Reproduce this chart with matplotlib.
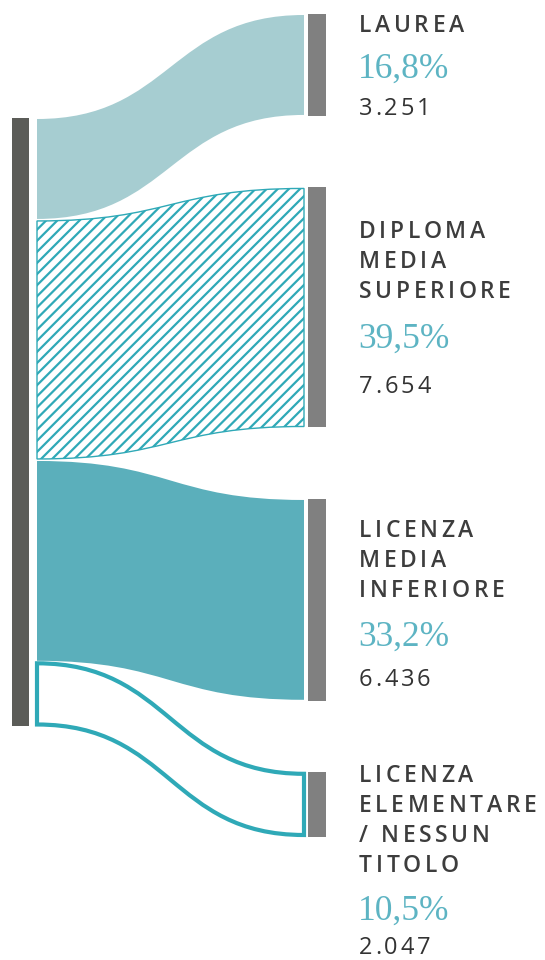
import numpy as np
import matplotlib
matplotlib.use('Agg')
import matplotlib.pyplot as plt
from matplotlib.path import Path
from matplotlib.patches import PathPatch, Rectangle

plt.rcParams['hatch.linewidth'] = 1.6

# data
categories = [['LAUREA'], ['DIPLOMA', 'MEDIA', 'SUPERIORE'],
              ['LICENZA', 'MEDIA', 'INFERIORE'],
              ['LICENZA', 'ELEMENTARE', '/ NESSUN', 'TITOLO']]
counts = [3251, 7654, 6436, 2047]
count_labels = ['3.251', '7.654', '6.436', '2.047']
pct_labels = ['16,8%', '39,5%', '33,2%', '10,5%']

# layout (pixel coords)
W, H = 545, 960
left_top, left_bot = 118, 726
right_top, gap = 14, 71.5
x_lbar = (12, 29)
x_flow = (37, 304)
x_rbar = (308, 326)
label_x = 359
label_y = [32, 238, 537, 782]   # baseline of first line
pct_y = [78, 348, 646, 920]
num_y = [115, 393, 686, 954]

teal_light = '#a6cdd1'
teal_mid = '#5bafbb'
teal_line = '#2fa9b7'
pct_col = '#5db4c3'
txt_col = '#3d3d3d'

fig = plt.figure(figsize=(W / 100, H / 100), dpi=100)
ax = fig.add_axes([0, 0, 1, 1])
ax.set_xlim(0, W)
ax.set_ylim(H, 0)
ax.axis('off')

total = sum(counts)
scale = (left_bot - left_top) / total

ax.add_patch(Rectangle((x_lbar[0], left_top), x_lbar[1] - x_lbar[0],
                       left_bot - left_top, color='#5b5c58', lw=0))


def band(x0, x1, a0, a1, b0, b1):
    # top edge a0->b0, bottom edge b1<-a1 as cubic beziers
    xm = (x0 + x1) / 2
    verts = [(x0, a0), (xm, a0), (xm, b0), (x1, b0),
             (x1, b1), (xm, b1), (xm, a1), (x0, a1), (x0, a0)]
    codes = [Path.MOVETO, Path.CURVE4, Path.CURVE4, Path.CURVE4,
             Path.LINETO, Path.CURVE4, Path.CURVE4, Path.CURVE4, Path.CLOSEPOLY]
    return Path(verts, codes)


styles = [
    dict(facecolor=teal_light, edgecolor='none'),
    dict(facecolor='white', edgecolor=teal_line, hatch='///', lw=1.0),
    dict(facecolor=teal_mid, edgecolor='none'),
    dict(facecolor='white', edgecolor=teal_line, lw=3),
]

renderer = fig.canvas.get_renderer()


def spaced(x, y, s, track, **kw):
    for ch in s:
        t = ax.text(x, y, ch, va='baseline', ha='left', **kw)
        w = t.get_window_extent(renderer).width
        x += w + track


yl = left_top
yr = right_top
for i, c in enumerate(counts):
    h = c * scale
    st = styles[i]
    inset = 1.5 if st.get('lw', 0) > 2 else 1
    p = band(x_flow[0], x_flow[1], yl + inset, yl + h - inset,
             yr + inset, yr + h - inset)
    ax.add_patch(PathPatch(p, **st))
    ax.add_patch(Rectangle((x_rbar[0], yr), x_rbar[1] - x_rbar[0], h,
                           color='#808080', lw=0))
    # labels
    y = label_y[i]
    for line in categories[i]:
        spaced(label_x, y, line, 3.6, fontsize=16.5, family='Open Sans',
               weight='semibold', color=txt_col)
        y += 30
    ax.text(label_x - 1, pct_y[i], pct_labels[i], va='baseline', ha='left',
            fontsize=25.5, family='Liberation Serif', color=pct_col)
    spaced(label_x, num_y[i], count_labels[i], 2.8, fontsize=17,
           family='Open Sans', color='#333333')
    yl += h
    yr += h + gap

fig.savefig('out.png', dpi=100)
